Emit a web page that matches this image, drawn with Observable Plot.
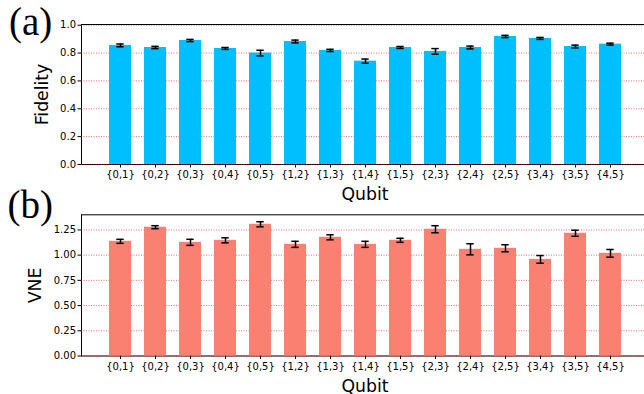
<!DOCTYPE html>
<html>
<head>
<meta charset="utf-8">
<script src="https://cdn.jsdelivr.net/npm/d3@7"></script>
<script src="https://cdn.jsdelivr.net/npm/@observablehq/plot@0.6"></script>
<style>
  html, body { margin: 0; padding: 0; background: white; }
  #wrap { position: relative; width: 644px; height: 394px; overflow: hidden; }
</style>
</head>
<body>
<div id="wrap"></div>
<script>
const qubits = ["{0,1}","{0,2}","{0,3}","{0,4}","{0,5}","{1,2}","{1,3}","{1,4}","{1,5}","{2,3}","{2,4}","{2,5}","{3,4}","{3,5}","{4,5}"];
const fidelity    = [0.855,0.840,0.890,0.833,0.800,0.883,0.819,0.742,0.840,0.812,0.840,0.919,0.905,0.847,0.864];
const fidelityErr = [0.010,0.008,0.008,0.007,0.020,0.010,0.008,0.015,0.007,0.020,0.010,0.008,0.007,0.010,0.007];
const vne    = [1.137,1.277,1.127,1.147,1.306,1.107,1.177,1.107,1.147,1.257,1.058,1.068,0.958,1.217,1.018];
const vneErr = [0.020,0.015,0.030,0.025,0.025,0.030,0.025,0.030,0.020,0.035,0.055,0.035,0.038,0.030,0.038];
const fidTicks = [0.0,0.2,0.4,0.6,0.8,1.0];
const vneTicks = [0.0,0.25,0.5,0.75,1.0,1.25];

function panel({values, errors, ticks, fmt, yMax, fill, ylabel, ylabelDx, tag, tagDx, tagDy, top, mTop, mBottom}) {
  const data = qubits.map((q, i) => ({q, v: values[i], e: errors[i]}));
  const svg = Plot.plot({
    width: 644, height: 197,
    marginLeft: 81, marginRight: 0, marginTop: mTop, marginBottom: mBottom,
    style: {fontFamily: "DejaVu Sans", fontSize: "10px", background: "transparent", overflow: "visible", color: "black"},
    x: {type: "band", domain: qubits, range: [100.35, 629.65], paddingInner: 0.375, paddingOuter: 0.1875,
        label: null, line: true, tickSize: 3.5, tickPadding: 3},
    y: {domain: [0, yMax], ticks: ticks, tickFormat: fmt, label: null, line: true, tickSize: 3.5, tickPadding: 2},
    marks: [
      Plot.ruleY(ticks, {stroke: "red", strokeOpacity: 0.75, strokeWidth: 0.8, strokeDasharray: "1,1.5"}),
      Plot.barY(data, {x: "q", y: "v", fill: fill}),
      Plot.ruleX(data, {x: "q", y1: d => d.v - d.e, y2: d => d.v + d.e, stroke: "black", strokeWidth: 1.5}),
      Plot.tickY(data, {x: "q", y: d => d.v - d.e, stroke: "black", strokeWidth: 1.5, insetLeft: 7.3, insetRight: 7.3}),
      Plot.tickY(data, {x: "q", y: d => d.v + d.e, stroke: "black", strokeWidth: 1.5, insetLeft: 7.3, insetRight: 7.3}),
      Plot.ruleY([yMax], {stroke: "black", strokeWidth: 1}),
      Plot.text(["Qubit"], {frameAnchor: "bottom", textAnchor: "middle", lineAnchor: "middle", dy: 30, dx: 2, fontSize: 17.3, fill: "black"}),
      Plot.text([ylabel], {frameAnchor: "left", textAnchor: "middle", lineAnchor: "middle", rotate: -90, dx: ylabelDx, fontSize: 17.3, fill: "black"}),
      Plot.text([tag], {frameAnchor: "top-left", textAnchor: "start", lineAnchor: "middle", dx: tagDx, dy: tagDy, fontSize: 39, fontFamily: "Liberation Serif", fill: "black"})
    ]
  });
  svg.style.position = "absolute";
  svg.style.top = top + "px";
  svg.style.left = "0px";
  document.getElementById("wrap").appendChild(svg);
}

panel({values: fidelity, errors: fidelityErr, ticks: fidTicks, fmt: d3.format(".1f"), yMax: 1.005,
       fill: "#00bfff", ylabel: "Fidelity", ylabelDx: -39.5, tag: "(a)", tagDx: -72.5, tagDy: -1.5,
       top: 0, mTop: 24, mBottom: 33});
panel({values: vne, errors: vneErr, ticks: vneTicks, fmt: d3.format(".2f"), yMax: 1.4,
       fill: "#fa8072", ylabel: "VNE", ylabelDx: -46.5, tag: "(b)", tagDx: -74, tagDy: -9.5,
       top: 197, mTop: 17.3, mBottom: 38.5});
</script>
</body>
</html>
